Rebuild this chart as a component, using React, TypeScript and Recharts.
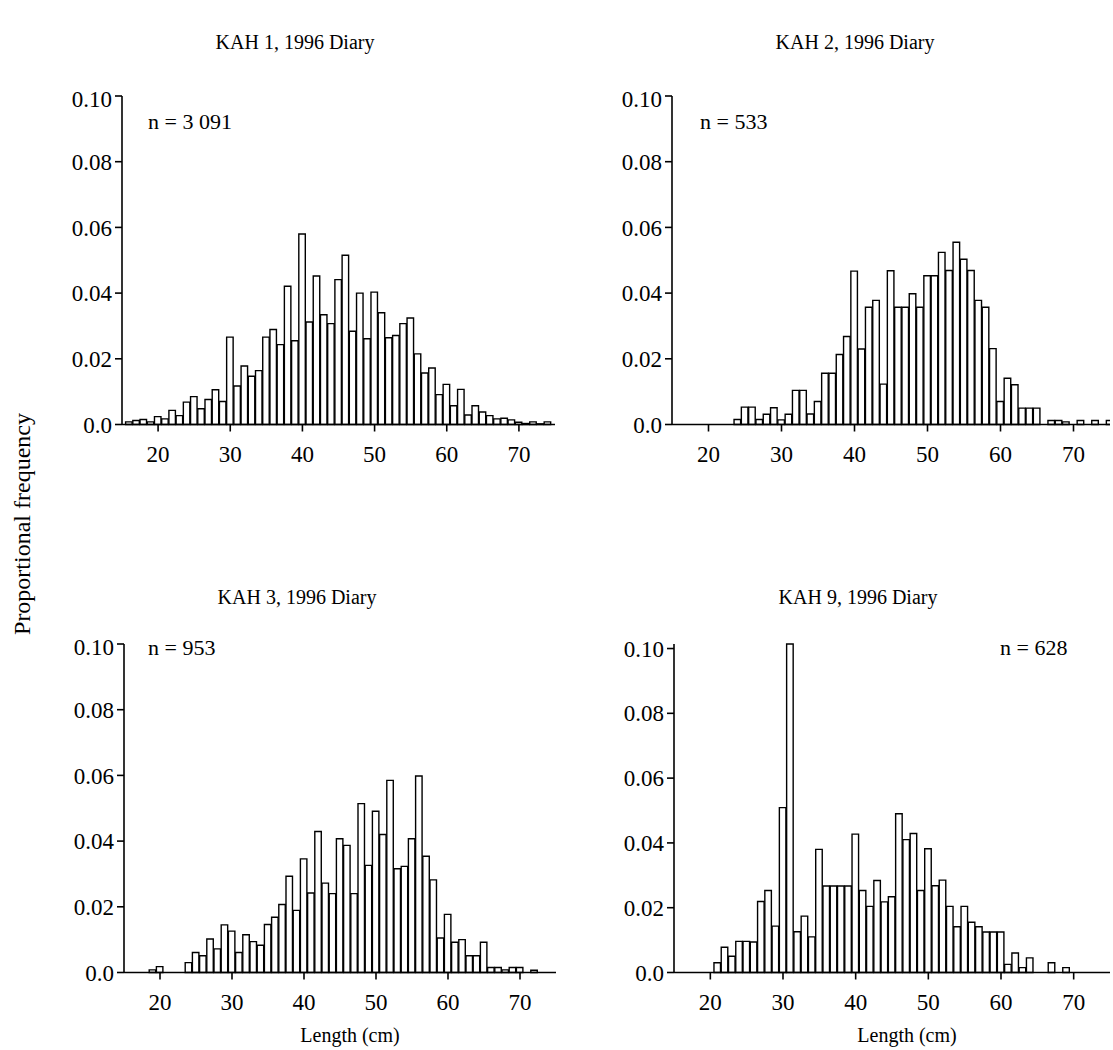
import React from "react";
import { BarChart, Bar, XAxis, YAxis } from "recharts";

// Length classes (cm)
const lengths = [16, 17, 18, 19, 20, 21, 22, 23, 24, 25, 26, 27, 28, 29, 30, 31, 32, 33, 34, 35, 36, 37, 38, 39, 40, 41, 42, 43, 44, 45, 46, 47, 48, 49, 50, 51, 52, 53, 54, 55, 56, 57, 58, 59, 60, 61, 62, 63, 64, 65, 66, 67, 68, 69, 70, 71, 72, 73, 74, 75];

const kah1 = [0.0008, 0.0012, 0.0015, 0.0008, 0.0024, 0.0017, 0.0043, 0.0027, 0.0068, 0.0085, 0.0048, 0.0076, 0.0106, 0.007, 0.0266, 0.0117, 0.0178, 0.0147, 0.0164, 0.0266, 0.0289, 0.0243, 0.0421, 0.0255, 0.058, 0.0312, 0.0452, 0.0334, 0.0307, 0.0441, 0.0515, 0.0284, 0.04, 0.0261, 0.0403, 0.034, 0.0264, 0.0271, 0.0307, 0.0324, 0.0215, 0.0157, 0.0172, 0.0091, 0.0122, 0.0057, 0.0107, 0.0029, 0.0057, 0.0038, 0.0027, 0.0017, 0.0019, 0.0014, 0.0007, 0.0003, 0.0008, 0.0002, 0.0008, 0];

const kah2 = [0, 0, 0, 0, 0, 0, 0, 0, 0.0015, 0.0053, 0.0053, 0.0015, 0.0031, 0.0051, 0.0014, 0.0031, 0.0104, 0.0104, 0.0032, 0.007, 0.0156, 0.0156, 0.0213, 0.0268, 0.0467, 0.023, 0.0357, 0.0378, 0.0123, 0.0468, 0.0357, 0.0357, 0.0398, 0.0357, 0.0453, 0.0453, 0.0524, 0.0469, 0.0555, 0.0503, 0.0469, 0.0378, 0.0357, 0.0231, 0.007, 0.0141, 0.0121, 0.005, 0.005, 0.005, 0, 0.0012, 0.0012, 0.0008, 0, 0.0012, 0, 0.0012, 0, 0.0012];

const kah3 = [0, 0, 0, 0.0008, 0.0018, 0, 0, 0, 0.003, 0.0061, 0.0051, 0.0102, 0.0072, 0.0145, 0.0126, 0.0061, 0.0115, 0.0094, 0.0083, 0.0146, 0.0168, 0.0207, 0.0293, 0.0189, 0.0346, 0.0242, 0.0429, 0.0272, 0.024, 0.0407, 0.0387, 0.024, 0.0514, 0.0326, 0.0491, 0.042, 0.0585, 0.0316, 0.0323, 0.0407, 0.0598, 0.0354, 0.0282, 0.0105, 0.0177, 0.0092, 0.01, 0.0051, 0.0051, 0.0092, 0.0015, 0.0015, 0.0008, 0.0015, 0.0015, 0, 0.0007, 0, 0, 0];

const kah9 = [0, 0, 0, 0, 0, 0.003, 0.0078, 0.005, 0.0096, 0.0096, 0.0094, 0.0219, 0.0253, 0.0143, 0.0509, 0.1014, 0.0126, 0.0174, 0.011, 0.038, 0.0267, 0.0267, 0.0267, 0.0267, 0.0427, 0.0253, 0.0204, 0.0284, 0.0218, 0.0234, 0.049, 0.041, 0.0429, 0.0253, 0.0382, 0.0268, 0.0285, 0.0204, 0.0141, 0.0204, 0.0155, 0.0141, 0.0125, 0.0125, 0.0125, 0.0025, 0.006, 0.0015, 0.0045, 0, 0, 0.003, 0, 0.0015, 0, 0, 0, 0, 0, 0];

const xTicks = [20, 30, 40, 50, 60, 70];
const yTicks = [0, 0.02, 0.04, 0.06, 0.08, 0.1];
const yTickLabels = ["0.0", "0.02", "0.04", "0.06", "0.08", "0.10"];

const titles = ["KAH 1, 1996 Diary", "KAH 2, 1996 Diary", "KAH 3, 1996 Diary", "KAH 9, 1996 Diary"];
const nLabels = ["n = 3 091", "n = 533", "n = 953", "n = 628"];

const FONT = "'Liberation Serif', 'Times New Roman', serif";

function build(values: number[]) {
  return lengths.map((len, i) => ({ len, p: values[i] }));
}

type PanelProps = {
  values: number[];
  plotLeft: number;
  plotRight: number;
  plotTop: number;
  plotBottom: number;
};

function Panel({ values, plotLeft, plotRight, plotTop, plotBottom }: PanelProps) {
  const yAxisW = 90;
  const xAxisH = 50;
  const mTop = 10;
  const mRight = 3;
  const width = plotRight - plotLeft + yAxisW + mRight;
  const height = plotBottom - plotTop + mTop + xAxisH;
  const barSize = (plotRight - plotLeft) / 60;
  const tickStyle = { fill: "#000", fontSize: 23, fontFamily: FONT };
  return (
    <div style={{ position: "absolute", left: plotLeft - yAxisW, top: plotTop - mTop, width, height }}>
      <BarChart
        width={width}
        height={height}
        data={build(values)}
        margin={{ top: mTop, right: mRight, bottom: 0, left: 0 }}
        barGap={0}
        barCategoryGap={0}
      >
        <XAxis
          dataKey="len"
          type="number"
          domain={[15, 75]}
          ticks={xTicks}
          allowDataOverflow
          height={xAxisH}
          tickSize={7}
          tickMargin={14}
          tick={tickStyle}
          axisLine={{ stroke: "#000", strokeWidth: 1.6 }}
          tickLine={{ stroke: "#000", strokeWidth: 1.6 }}
        />
        <YAxis
          type="number"
          domain={[0, 0.1]}
          ticks={yTicks}
          width={yAxisW}
          tickSize={7}
          tickMargin={3}
          tick={tickStyle}
          tickFormatter={(v: number) => yTickLabels[yTicks.indexOf(v)] ?? String(v)}
          axisLine={{ stroke: "#000", strokeWidth: 1.6 }}
          tickLine={{ stroke: "#000", strokeWidth: 1.6 }}
        />
        <Bar
          dataKey="p"
          fill="#fff"
          stroke="#000"
          strokeWidth={1.4}
          barSize={barSize}
          isAnimationActive={false}
        />
      </BarChart>
    </div>
  );
}

const textStyle: React.CSSProperties = {
  position: "absolute",
  fontFamily: FONT,
  fontSize: 20,
  color: "#000",
  whiteSpace: "nowrap",
  lineHeight: "24px",
};

export default function App() {
  return (
    <div style={{ position: "absolute", left: 0, top: 0, width: 1113, height: 1050, background: "#fff", overflow: "hidden" }}>
      <Panel values={kah1} plotLeft={122} plotRight={555} plotTop={95.5} plotBottom={424} />
      <Panel values={kah2} plotLeft={672} plotRight={1110} plotTop={95.5} plotBottom={424} />
      <Panel values={kah3} plotLeft={124} plotRight={556} plotTop={643.5} plotBottom={972} />
      <Panel values={kah9} plotLeft={674} plotRight={1110} plotTop={643.5} plotBottom={972} />

      <div style={{ ...textStyle, left: 195, width: 200, top: 30, textAlign: "center" }}>{titles[0]}</div>
      <div style={{ ...textStyle, left: 755, width: 200, top: 30, textAlign: "center" }}>{titles[1]}</div>
      <div style={{ ...textStyle, left: 197, width: 200, top: 585, textAlign: "center" }}>{titles[2]}</div>
      <div style={{ ...textStyle, left: 758, width: 200, top: 585, textAlign: "center" }}>{titles[3]}</div>

      <div style={{ ...textStyle, fontSize: 22, left: 148, top: 110 }}>{nLabels[0]}</div>
      <div style={{ ...textStyle, fontSize: 22, left: 700, top: 110 }}>{nLabels[1]}</div>
      <div style={{ ...textStyle, fontSize: 22, left: 148, top: 636 }}>{nLabels[2]}</div>
      <div style={{ ...textStyle, fontSize: 22, left: 1000, top: 636 }}>{nLabels[3]}</div>

      <div style={{ ...textStyle, left: 290, width: 120, top: 1023, textAlign: "center" }}>Length (cm)</div>
      <div style={{ ...textStyle, left: 847, width: 120, top: 1023, textAlign: "center" }}>Length (cm)</div>

      <div
        style={{
          ...textStyle,
          fontSize: 24,
          left: 22,
          top: 524,
          transform: "translate(-50%, -50%) rotate(-90deg)",
        }}
      >
        Proportional frequency
      </div>
    </div>
  );
}
